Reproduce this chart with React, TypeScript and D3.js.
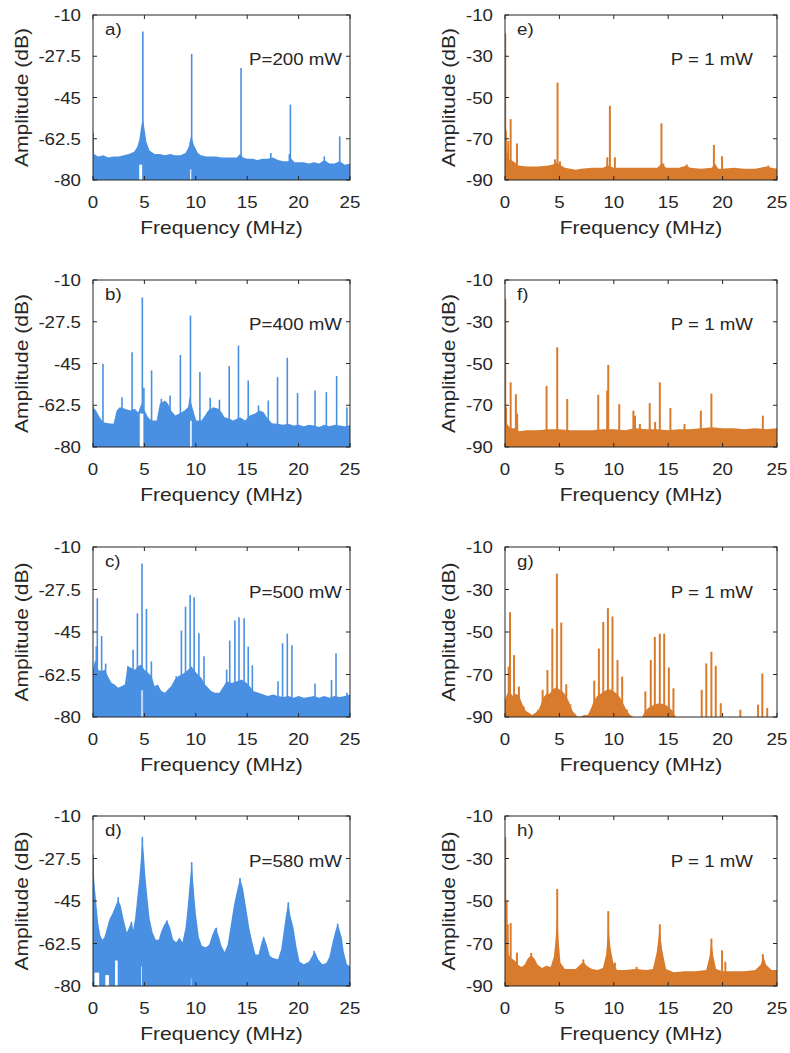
import React from 'react';
import * as d3 from 'd3';

type Pt = [number, number];
type Gap = [number, number, number];

const FREQ_TICKS = [0, 5, 10, 15, 20, 25];
const LEFT_DB_TICKS = [-80, -62.5, -45, -27.5, -10];
const RIGHT_DB_TICKS = [-90, -70, -50, -30, -10];
const LEFT_LABELS = ['a)', 'b)', 'c)', 'd)'];
const RIGHT_LABELS = ['e)', 'f)', 'g)', 'h)'];
const LEFT_POWERS = ['P=200 mW', 'P=400 mW', 'P=500 mW', 'P=580 mW'];
const RIGHT_POWERS = ['P = 1 mW', 'P = 1 mW', 'P = 1 mW', 'P = 1 mW'];
const X_LABEL = 'Frequency (MHz)';
const Y_LABEL = 'Amplitude (dB)';

// ---------- panel a (200 mW) ----------
const floorA: Pt[] = [[0,-62],[0.1,-69],[0.5,-70],[1,-69.5],[1.5,-70.5],[2,-70],[2.5,-70],[3,-69.5],[3.5,-69],[4,-68],[4.3,-66],[4.5,-63],[4.7,-57],[4.85,-54],[5.0,-58],[5.2,-64],[5.5,-67.5],[6,-69],[6.5,-69],[7,-69.5],[7.5,-69],[8,-69.5],[8.5,-69.5],[9,-68.5],[9.3,-66],[9.55,-61],[9.8,-65],[10.2,-68.5],[10.5,-69.5],[11,-70],[11.5,-70],[12,-70],[12.5,-70.5],[13,-70.5],[13.5,-70.5],[14,-70.5],[14.3,-69],[14.6,-70.5],[15,-71],[15.5,-71],[16,-71.5],[16.5,-71],[17,-71],[17.5,-70.5],[18,-71.5],[18.5,-72],[19,-72],[19.3,-71],[19.6,-72.5],[20,-72.5],[20.5,-72.5],[21,-73],[21.5,-72.5],[22,-73],[22.5,-71.5],[23,-73],[23.5,-73],[24,-72],[24.5,-73.5],[25,-73]];
const peaksA: Pt[] = [[0.02,-60],[4.85,-17],[9.6,-26.5],[14.4,-32.5],[19.2,-48],[24.0,-61.5],[17.3,-68.5],[22.5,-70],[19.1,-69]];
const gapsA: Gap[] = [[4.5,4.78,-73.5],[9.45,9.56,-75.5]];

// ---------- panel b (400 mW) ----------
const floorB: Pt[] = [[0,-63.3],[0.3,-64.7],[0.65,-67.5],[1,-69.6],[1.5,-70],[2,-70.3],[2.3,-64.7],[2.6,-63.3],[3.1,-64],[3.6,-64.7],[4.05,-64],[4.4,-65.5],[4.7,-61.9],[5.03,-64.7],[5.35,-67.5],[5.7,-68.9],[6.2,-68.9],[6.5,-61.9],[7,-60.5],[7.3,-61.9],[7.6,-64.7],[8,-66.8],[8.4,-66],[8.9,-64.7],[9.25,-63.3],[9.4,-59],[9.75,-64.7],[10.05,-68.9],[10.55,-68.9],[10.9,-66.8],[11.2,-64.7],[11.7,-63.3],[12.2,-64],[12.5,-65.4],[12.8,-67.5],[13.3,-68.2],[13.6,-68.9],[14,-68.2],[14.3,-67.5],[14.8,-68.9],[15.25,-66.8],[15.75,-66],[16.2,-64.7],[16.6,-65.4],[16.9,-67.5],[17.4,-70],[17.9,-70.3],[18.5,-70.7],[19,-70.3],[19.5,-71],[20,-70.7],[20.5,-71.3],[21,-70.7],[21.5,-71],[22,-71.6],[22.5,-70.7],[23,-71.3],[23.5,-70.7],[24,-71],[24.5,-71.3],[25,-70.9]];
const peaksB: Pt[] = [[0.02,-63],[0.97,-45.1],[2.82,-59.1],[3.8,-40.3],[4.8,-17.3],[4.95,-55.2],[5.7,-47.9],[6.65,-59.8],[7.5,-58.4],[8.5,-41.4],[9.48,-24.9],[10.4,-48.6],[11.4,-59.4],[12.3,-60.2],[13.25,-46.1],[14.15,-37.5],[15.1,-52.1],[16.1,-62.6],[17.05,-60.5],[17.95,-50.7],[18.9,-42.6],[19.9,-57.4],[21.6,-56.3],[22.7,-57],[23.7,-50.2],[24.7,-63.3]];
const gapsB: Gap[] = [[4.55,4.9,-66],[9.45,9.6,-69]];

// ---------- panel c (500 mW) ----------
const floorC: Pt[] = [[0,-60.5],[0.2,-56.4],[0.5,-60.5],[0.8,-61.2],[1.15,-60.5],[1.45,-63.2],[1.8,-65.9],[2.1,-66.6],[2.45,-68],[2.75,-67.3],[3.1,-66.6],[3.35,-59.1],[3.75,-59.8],[4.05,-60.5],[4.4,-59.1],[4.7,-58.4],[5.0,-60.5],[5.35,-61.8],[5.7,-63.2],[6.0,-67.3],[6.3,-66.6],[6.65,-69.3],[7,-70],[7.3,-68.6],[7.6,-67.3],[7.95,-64.6],[8.3,-63.2],[8.6,-62.5],[8.9,-61.8],[9.25,-60.5],[9.58,-59.1],[9.9,-61.1],[10.2,-62.5],[10.55,-63.9],[10.9,-66.6],[11.2,-68],[11.5,-69.3],[11.85,-70],[12.3,-70],[12.7,-67.3],[13,-65.3],[13.5,-66],[14,-65.3],[14.45,-64.6],[14.95,-66],[15.25,-67.3],[15.6,-69.3],[16.1,-70],[16.6,-70.7],[17,-71.4],[17.5,-70.7],[18,-71.4],[18.5,-71.8],[19,-71.4],[19.5,-72.1],[20,-71.4],[20.5,-72.1],[21,-71.8],[21.5,-71.4],[22,-72.1],[22.5,-71.4],[23,-72.1],[23.5,-71.4],[24,-71.8],[24.5,-71.4],[25,-70.7]];
const peaksC: Pt[] = [[0.02,-60],[0.32,-50.9],[0.42,-31.1],[0.84,-46.6],[1.23,-58],[3.4,-59.1],[3.9,-52.3],[4.32,-37.3],[4.77,-16.8],[5.2,-35.5],[5.68,-57.1],[8.1,-63.2],[8.6,-44.4],[9.0,-34.6],[9.45,-29.8],[9.84,-30.7],[10.3,-45.5],[10.8,-55],[13,-60.5],[13.3,-48.5],[13.8,-40.3],[14.2,-38.9],[14.7,-39.3],[15.1,-51],[15.5,-58.7],[18.0,-65.3],[18.44,-49.6],[18.9,-45.7],[19.35,-50.5],[21.6,-66.2],[23.2,-64.8],[23.64,-53.7],[24.7,-70]];
const gapsC: Gap[] = [[4.68,4.74,-69],[4.8,4.87,-69]];

// ---------- panel d (580 mW) ----------
const floorD: Pt[] = [[0,-26],[0.05,-31],[0.15,-38],[0.3,-45],[0.5,-54],[0.7,-59],[0.9,-61],[1.1,-60],[1.3,-57],[1.6,-52.5],[1.9,-50],[2.2,-47],[2.45,-44.5],[2.7,-47],[3.0,-53],[3.3,-58],[3.6,-55],[3.75,-53.5],[3.9,-57],[4.1,-52],[4.3,-44],[4.5,-36],[4.65,-28],[4.8,-19],[4.95,-26],[5.1,-35],[5.3,-44],[5.5,-52],[5.8,-58],[6.1,-61],[6.4,-61],[6.6,-58],[6.9,-55],[7.2,-53],[7.5,-56],[7.8,-61],[8.1,-62],[8.4,-60],[8.7,-62],[9.0,-56],[9.2,-48],[9.4,-38],[9.6,-29],[9.8,-40],[10.0,-50],[10.3,-60],[10.6,-63.5],[11,-64],[11.3,-63],[11.6,-59],[11.9,-56],[12.2,-59],[12.5,-63.5],[12.8,-66],[13.1,-63],[13.4,-55],[13.7,-47],[14.0,-41],[14.3,-35.5],[14.6,-40],[14.9,-48],[15.2,-56],[15.5,-62],[15.8,-67],[16.1,-67],[16.4,-62],[16.6,-59.5],[16.9,-63],[17.2,-67.5],[17.5,-68.5],[18,-69],[18.3,-65],[18.6,-56],[18.8,-50],[19.0,-45.5],[19.2,-51],[19.5,-56],[19.8,-64],[20.1,-70],[20.5,-71],[21,-70],[21.4,-67],[21.6,-66],[21.9,-69],[22.3,-71],[22.7,-70.5],[23.0,-68],[23.3,-62],[23.6,-57],[23.8,-54.5],[24.0,-57],[24.2,-60],[24.4,-66],[24.7,-71],[25,-72]];
const peaksD: Pt[] = [[0.02,-26],[2.45,-43.5],[3.75,-53.5],[4.8,-18.6],[7.2,-53],[9.6,-29],[12.0,-56],[14.3,-35.5],[16.6,-60],[19.0,-45.5],[21.5,-65.5],[23.8,-54.3]];
const gapsD: Gap[] = [[0.15,0.6,-74.5],[1.2,1.55,-75.5],[2.15,2.4,-69.5],[4.68,4.75,-72],[9.52,9.57,-77]];

// ---------- panel e (1 mW) ----------
const floorE: Pt[] = [[0,-72],[0.2,-76],[0.4,-80],[0.8,-81],[1.2,-83],[2,-83.5],[3,-83.5],[4,-83],[4.4,-82.5],[4.7,-81.5],[5.0,-82.5],[5.5,-84],[6,-84.5],[6.5,-85],[7,-84.5],[8,-84],[9,-84],[9.5,-83],[10,-84],[11,-84],[12,-84],[13,-84],[14,-84],[14.4,-82],[14.8,-84],[15,-84],[16,-84],[16.7,-83],[17,-84],[18,-84.5],[19,-84],[19.3,-82],[19.6,-84.5],[20,-84.5],[21,-84],[22,-84.5],[23,-84.5],[24,-83.5],[24.5,-84],[25,-84.5]];
const peaksE: Pt[] = [[0.02,-19],[0.08,-66],[0.3,-71],[0.52,-60.5],[1.1,-72.3],[4.6,-80],[4.83,-42.8],[5.05,-81],[9.4,-79],[9.64,-54],[10.1,-79],[14.38,-62.5],[14.55,-82],[16.7,-82.5],[19.2,-73],[19.95,-78.5],[24.2,-83]];

// ---------- panel f (1 mW) ----------
const floorF: Pt[] = [[0,-74],[0.2,-79],[0.5,-81],[1,-81],[1.3,-82.5],[2,-82],[3,-82],[4,-81.5],[5,-81.5],[6,-82],[7,-82],[8,-82],[9,-81.5],[10,-81.5],[11,-82],[12,-81],[13,-81.5],[14,-81.5],[15,-82],[16,-81.5],[17,-81.5],[18,-81],[19,-80.5],[20,-81],[21,-81],[22,-81.5],[23,-81],[24,-81.5],[25,-81]];
const peaksF: Pt[] = [[0.02,-19],[0.1,-71],[0.52,-59],[1.0,-64.7],[1.12,-74],[3.82,-60.7],[4.8,-42.2],[5.72,-67],[8.57,-65],[9.39,-63],[9.49,-50.7],[10.5,-69.5],[11.8,-72.6],[11.95,-75],[12.4,-79],[13.3,-69],[13.8,-78],[14.23,-59],[15.2,-71.3],[16.5,-79],[18.0,-72.6],[18.97,-64.4],[23.7,-75]];

// ---------- panel g (1 mW) ----------
const floorG: Pt[] = [[0,-82],[0.2,-79],[0.4,-78],[0.7,-80],[1.0,-79],[1.3,-80],[1.6,-84],[1.9,-87],[2.2,-88],[2.5,-89],[2.8,-88],[3.1,-86.5],[3.3,-84],[3.5,-81],[3.8,-79],[4.1,-79],[4.4,-77],[4.7,-76],[5.0,-77],[5.3,-78],[5.6,-80],[5.9,-83],[6.2,-87],[6.5,-89],[6.8,-90],[7.3,-89],[7.6,-89],[7.9,-86],[8.2,-82],[8.5,-80],[8.8,-79],[9.1,-78],[9.4,-77],[9.7,-77],[10.0,-78],[10.3,-79],[10.6,-81],[10.9,-84],[11.2,-87],[11.5,-89],[11.8,-90],[12.6,-90],[12.8,-88],[13.1,-86],[13.4,-85],[13.8,-84],[14.2,-83.5],[14.6,-84],[15.0,-85],[15.4,-87],[15.7,-90],[25,-90]];
const peaksG: Pt[] = [[0.34,-66.3],[0.46,-40.7],[0.83,-60.9],[1.28,-75.7],[1.7,-85],[3.06,-86.6],[3.46,-77.2],[3.9,-67.9],[4.35,-48.4],[4.77,-22.5],[5.17,-45.6],[5.63,-74.6],[6.0,-84],[6.4,-88.5],[7.3,-89],[8.2,-72.9],[8.63,-57.8],[9.03,-45.3],[9.46,-38.8],[9.88,-42.7],[10.34,-63.2],[10.77,-71],[11.2,-86.5],[12.9,-78],[13.4,-63.2],[13.77,-52.3],[14.23,-50.8],[14.63,-50.8],[15.06,-66.7],[15.48,-76.5],[18.08,-77.2],[18.5,-64.8],[18.97,-59.3],[19.37,-65.9],[19.83,-83.5],[21.63,-86.6],[23.26,-84.2],[23.65,-69.5],[24.1,-85.8]];

// ---------- panel h (1 mW) ----------
const floorH: Pt[] = [[0,-60],[0.1,-70],[0.3,-75],[0.6,-77],[0.9,-78],[1.2,-80],[1.5,-81],[1.8,-80],[2.1,-77],[2.4,-75.5],[2.7,-77],[3.0,-80],[3.4,-81.5],[3.8,-80.5],[4.2,-81],[4.5,-76],[4.65,-68],[4.8,-56],[4.95,-70],[5.1,-79],[5.5,-82],[6,-82],[6.5,-82],[6.9,-80],[7.2,-78.5],[7.5,-80.5],[8,-82],[8.5,-82.5],[9,-81.5],[9.3,-75],[9.5,-62],[9.7,-72],[9.95,-79],[10.3,-82.5],[11,-82.5],[12,-82],[13,-82.5],[13.6,-82],[13.95,-74],[14.2,-63],[14.45,-73],[14.8,-82],[15.5,-83.5],[16.5,-83],[17.5,-83],[18.5,-82.5],[18.8,-76],[18.97,-69],[19.15,-76],[19.4,-82],[20,-83],[21,-83],[22,-83],[23,-82.5],[23.5,-80],[23.75,-76],[24.0,-80],[24.5,-82.5],[25,-82.5]];
const peaksH: Pt[] = [[0.02,-20],[0.15,-50],[0.25,-61],[0.52,-60.4],[1.1,-74.3],[2.4,-74.5],[4.8,-44.3],[7.2,-77.5],[9.49,-54.8],[10.1,-79],[12.1,-81],[14.23,-61],[18.97,-67.7],[19.95,-73.2],[20.25,-78.6],[23.7,-75]];

const LEFT_FLOORS = [floorA, floorB, floorC, floorD];
const LEFT_PEAKS = [peaksA, peaksB, peaksC, peaksD];
const LEFT_GAPS = [gapsA, gapsB, gapsC, gapsD];
const RIGHT_FLOORS = [floorE, floorF, floorG, floorH];
const RIGHT_PEAKS = [peaksE, peaksF, peaksG, peaksH];

const BLUE = '#4A90E2';
const ORANGE = '#D97B2D';
const INK = '#262626';
const FONT = '"Liberation Sans", Arial, Helvetica, sans-serif';

function Txt(props: { x: number; y: number; anchor?: string; size?: number; sx?: number; rotate?: number; children: React.ReactNode }) {
  const { x, y, anchor = 'start', size = 17, sx = 1.1, rotate = 0, children } = props;
  const tr = `translate(${x},${y})${rotate ? ` rotate(${rotate})` : ''} scale(${sx},1)`;
  return (
    <text transform={tr} textAnchor={anchor as any} fontSize={size} fontFamily={FONT} fill={INK}>
      {children}
    </text>
  );
}

interface PanelProps {
  id: string;
  x0: number; x1: number; y0: number; y1: number;
  yDomain: [number, number];
  yTicks: number[];
  floor: Pt[];
  peaks: Pt[];
  gaps: Gap[];
  color: string;
  label: string;
  power: string;
  powerPad: number;
  yLabelOffset: number;
  peakWidth: number;
}

function Panel(p: PanelProps) {
  const x = d3.scaleLinear().domain([0, 25]).range([p.x0, p.x1]);
  const y = d3.scaleLinear().domain(p.yDomain).range([p.y1, p.y0]);
  const base = p.yDomain[0];
  const area = d3.area<Pt>().x(d => x(d[0])).y0(y(base)).y1(d => y(d[1]));
  const h = p.y1 - p.y0;
  const tl = 4;
  return (
    <g>
      <defs>
        <clipPath id={`clip-${p.id}`}>
          <rect x={p.x0} y={p.y0} width={p.x1 - p.x0} height={h} />
        </clipPath>
      </defs>
      <g clipPath={`url(#clip-${p.id})`}>
        <path d={area(p.floor) || ''} fill={p.color} />
        {p.peaks.map((d, i) => (
          <line key={i} x1={x(d[0])} x2={x(d[0])} y1={y(base)} y2={y(d[1])} stroke={p.color} strokeWidth={p.peakWidth} />
        ))}
        {p.gaps.map((g, i) => (
          <rect key={i} x={x(g[0])} width={x(g[1]) - x(g[0])} y={y(g[2])} height={y(base) - y(g[2])} fill="#fff" />
        ))}
      </g>
      <rect x={p.x0} y={p.y0} width={p.x1 - p.x0} height={h} fill="none" stroke={INK} strokeWidth={1} />
      {FREQ_TICKS.map(t => (
        <g key={`xt${t}`}>
          <line x1={x(t)} x2={x(t)} y1={p.y1} y2={p.y1 - tl} stroke={INK} />
          <line x1={x(t)} x2={x(t)} y1={p.y0} y2={p.y0 + tl} stroke={INK} />
          <Txt x={x(t)} y={p.y1 + 28} anchor="middle">{String(t)}</Txt>
        </g>
      ))}
      {p.yTicks.map(t => (
        <g key={`yt${t}`}>
          <line x1={p.x0} x2={p.x0 + tl} y1={y(t)} y2={y(t)} stroke={INK} />
          <line x1={p.x1} x2={p.x1 - tl} y1={y(t)} y2={y(t)} stroke={INK} />
          <Txt x={p.x0 - 12} y={y(t) + 6} anchor="end">{String(t)}</Txt>
        </g>
      ))}
      <Txt x={(p.x0 + p.x1) / 2} y={p.y1 + 54} anchor="middle" size={18} sx={1.17}>{X_LABEL}</Txt>
      <Txt x={p.x0 - p.yLabelOffset} y={(p.y0 + p.y1) / 2} anchor="middle" size={18} sx={1.17} rotate={-90}>{Y_LABEL}</Txt>
      <Txt x={p.x0 + 12} y={p.y0 + h * 0.12}>{p.label}</Txt>
      <Txt x={p.x1 - p.powerPad} y={p.y0 + h * 0.3} anchor="end">{p.power}</Txt>
    </g>
  );
}

export default function App() {
  const cols = [{ x0: 93, x1: 350 }, { x0: 505, x1: 777 }];
  const rows = [{ y0: 15, y1: 180 }, { y0: 280, y1: 447 }, { y0: 547, y1: 717 }, { y0: 816, y1: 986 }];
  return (
    <svg width={790} height={1053} style={{ position: 'absolute', left: 0, top: 0, background: '#fff' }}>
      <rect width={790} height={1053} fill="#fff" />
      {rows.map((r, i) => (
        <Panel key={`L${i}`} id={`L${i}`} {...cols[0]} {...r} yDomain={[-80, -10]} yTicks={LEFT_DB_TICKS}
          floor={LEFT_FLOORS[i]} peaks={LEFT_PEAKS[i]} gaps={LEFT_GAPS[i]} color={BLUE}
          label={LEFT_LABELS[i]} power={LEFT_POWERS[i]} powerPad={8} yLabelOffset={65} peakWidth={1.6} />
      ))}
      {rows.map((r, i) => (
        <Panel key={`R${i}`} id={`R${i}`} {...cols[1]} {...r} yDomain={[-90, -10]} yTicks={RIGHT_DB_TICKS}
          floor={RIGHT_FLOORS[i]} peaks={RIGHT_PEAKS[i]} gaps={[]} color={ORANGE}
          label={RIGHT_LABELS[i]} power={RIGHT_POWERS[i]} powerPad={24} yLabelOffset={50} peakWidth={2} />
      ))}
    </svg>
  );
}
